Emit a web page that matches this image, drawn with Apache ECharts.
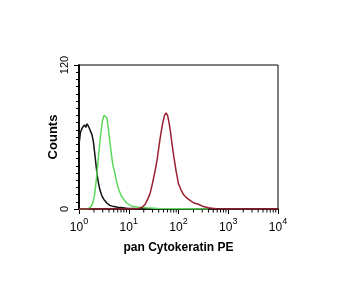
<!DOCTYPE html>
<html><head><meta charset="utf-8">
<script src="https://cdn.jsdelivr.net/npm/echarts@6/dist/echarts.min.js"></script>
<style>html,body{margin:0;padding:0;background:#fff}#c{width:346px;height:295px}</style>
</head><body><div id="c"></div>
<script>
// log10 of fluorescence intensity and counts
const decadeTicks = [0, 1, 2, 3, 4];
const yTicks = [0, 120];
const blackX = [0, 0.004, 0.03, 0.07, 0.11, 0.14, 0.16, 0.19, 0.22, 0.26, 0.29, 0.32, 0.36, 0.39, 0.42, 0.46, 0.5, 0.56, 0.62, 0.7, 0.78, 0.88, 0.98, 1.1, 1.3, 1.5];
const blackY = [90, 55, 64, 68, 70, 68, 71, 69, 66, 62, 56, 45, 30, 22, 16, 11, 8, 5, 3, 2, 1.5, 1, 0.5, 0.5, 0, 0];
const greenX = [0, 0.15, 0.22, 0.27, 0.31, 0.35, 0.39, 0.43, 0.47, 0.50, 0.53, 0.56, 0.59, 0.62, 0.65, 0.68, 0.72, 0.76, 0.8, 0.85, 0.9, 0.96, 1.03, 1.1, 1.2, 1.35, 1.6, 2.0, 2.6];
const greenY = [0, 0, 1, 4, 11, 25, 43, 60, 73, 78, 79, 76, 67, 56, 46, 37, 30, 22, 16, 11, 8, 5, 3, 2, 1.5, 1, 0.5, 0.3, 0];
const redX = [0, 1.1, 1.2, 1.27, 1.33, 1.38, 1.43, 1.48, 1.53, 1.57, 1.61, 1.65, 1.69, 1.72, 1.75, 1.78, 1.81, 1.84, 1.87, 1.905, 1.95, 2.0, 2.05, 2.1, 2.17, 2.24, 2.31, 2.4, 2.5, 2.6, 2.75, 3, 4];
const redY = [0, 0, 0.5, 1.5, 4, 8, 13, 22, 32, 41, 53, 64, 73, 78, 80, 78, 72, 64, 54, 44, 32, 21, 16, 12, 9, 7, 5, 4, 2, 1, 0.3, 0, 0];
const yMinorStep = 6;
const xTitle = 'pan Cytokeratin PE';
const yTitle = 'Counts';

const minorX = [];
decadeTicks.slice(0, -1).forEach(d => { for (let k = 2; k <= 9; k++) minorX.push(d + Math.log10(k)); });
const pairs = (xs, ys) => xs.map((x, i) => [x, ys[i]]);
const font = 'Liberation Sans, Arial, sans-serif';
const line = {show: true, lineStyle: {color: '#000', width: 1.5}};

const chart = echarts.init(document.getElementById('c'), null, {renderer: 'canvas'});
chart.setOption({
  animation: false,
  grid: {left: 79, right: 68, top: 65, bottom: 86, show: true, borderColor: '#000', borderWidth: 1},
  xAxis: {
    type: 'value', min: decadeTicks[0], max: decadeTicks[4], interval: 1,
    name: xTitle, nameLocation: 'middle', nameGap: 33, nameMoveOverlap: false,
    nameTextStyle: {fontFamily: font, fontWeight: 'bold', fontSize: 12, color: '#000'},
    axisLine: line,
    axisTick: {show: true, length: 5, lineStyle: {color: '#000', width: 1}},
    splitLine: {show: false},
    axisLabel: {
      margin: 8,
      formatter: v => '{b|10}{s|' + v + '}',
      rich: {
        b: {fontFamily: font, fontSize: 12, color: '#000', lineHeight: 17, verticalAlign: 'bottom'},
        s: {fontFamily: font, fontSize: 9, color: '#000', lineHeight: 9, verticalAlign: 'top'}
      }
    }
  },
  yAxis: [{
    type: 'value', min: yTicks[0], max: yTicks[1], interval: 120,
    name: yTitle, nameLocation: 'middle', nameGap: 19, nameMoveOverlap: false,
    nameTextStyle: {fontFamily: font, fontWeight: 'bold', fontSize: 13, color: '#000'},
    axisLine: line,
    axisTick: {show: true, length: 5, lineStyle: {color: '#000', width: 1}},
    splitLine: {show: false},
    axisLabel: {rotate: 90, margin: 9, fontFamily: font, fontSize: 11, color: '#000'}
  }, {
    type: 'value', min: yTicks[0], max: yTicks[1], interval: yMinorStep, position: 'left', offset: 0,
    axisLine: line, axisLabel: {show: false}, splitLine: {show: false},
    axisTick: {show: true, length: 3, lineStyle: {color: '#000', width: 1}}
  }],
  series: [
    {type: 'line', data: pairs(blackX, blackY), showSymbol: false, lineStyle: {color: '#111', width: 1.5}},
    {type: 'line', data: pairs(greenX, greenY), showSymbol: false, lineStyle: {color: '#5cd85c', width: 1.5}},
    {type: 'line', data: pairs(redX, redY), showSymbol: false, lineStyle: {color: '#9b1f2f', width: 1.5}},
    {
      type: 'custom', clip: false, silent: true, z: 1,
      data: minorX.map(v => [v, 0]),
      renderItem: (params, api) => {
        const p = api.coord([api.value(0), 0]);
        return {type: 'line', shape: {x1: p[0], y1: p[1], x2: p[0], y2: p[1] + 3.5}, style: {stroke: '#000', lineWidth: 1}};
      }
    }
  ]
});
</script></body></html>
